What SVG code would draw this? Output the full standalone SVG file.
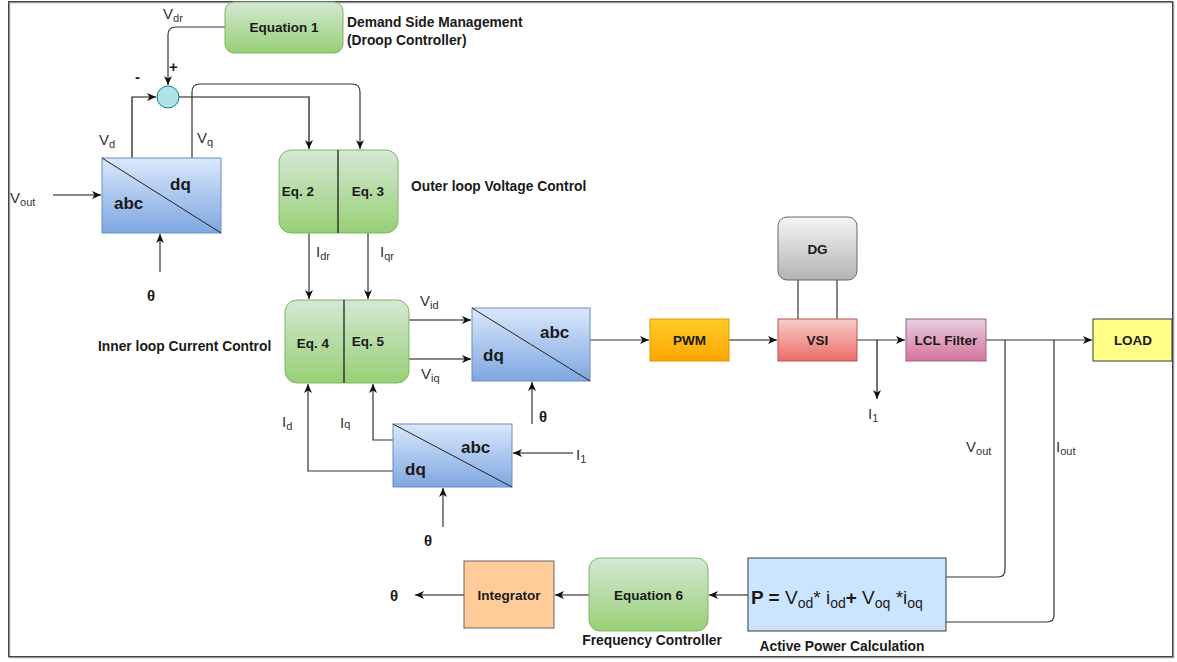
<svg xmlns="http://www.w3.org/2000/svg" width="1177" height="662" viewBox="0 0 1177 662">
<style>
text{font-family:"Liberation Sans",Arial,sans-serif;fill:#1a1a1a}
.b{font-weight:bold;font-size:13.5px;text-anchor:middle}
.lbl{font-weight:bold;font-size:13.8px}
.sym{font-size:15px;fill:#333}
.sub{font-size:11px}
.xf{font-weight:bold;font-size:17px}
.th{font-weight:bold;font-size:15px}
.c{fill:none;stroke:#333;stroke-width:1.2}
.k{fill:none;stroke:#111;stroke-width:1.2}
</style>
<defs>
<linearGradient id="gG" x1="0" y1="0" x2="0" y2="1"><stop offset="0" stop-color="#d5e8d4"/><stop offset="1" stop-color="#97d077"/></linearGradient>
<linearGradient id="gB" x1="0" y1="0" x2="0" y2="1"><stop offset="0" stop-color="#dae8fc"/><stop offset="1" stop-color="#7ea6e0"/></linearGradient>
<linearGradient id="gO" x1="0" y1="0" x2="0" y2="1"><stop offset="0" stop-color="#ffcd28"/><stop offset="1" stop-color="#ffa500"/></linearGradient>
<linearGradient id="gR" x1="0" y1="0" x2="0" y2="1"><stop offset="0" stop-color="#f8cecc"/><stop offset="1" stop-color="#ea6b66"/></linearGradient>
<linearGradient id="gP" x1="0" y1="0" x2="0" y2="1"><stop offset="0" stop-color="#e6d0de"/><stop offset="1" stop-color="#d5739d"/></linearGradient>
<linearGradient id="gS" x1="0" y1="0" x2="0" y2="1"><stop offset="0" stop-color="#f5f5f5"/><stop offset="1" stop-color="#b3b3b3"/></linearGradient>
<marker id="ar" viewBox="0 0 9 8" refX="9" refY="4" markerWidth="9" markerHeight="8" markerUnits="userSpaceOnUse" orient="auto">
<path d="M0,0 L9,4 L0,8 L2.5,4 z" fill="#111"/>
</marker>
</defs>
<rect x="0" y="0" width="1177" height="662" fill="#fff"/>
<rect x="9.5" y="2.5" width="1164" height="655" fill="none" stroke="#999" stroke-width="1.5"/>
<rect x="8.5" y="1.5" width="1164" height="655" fill="none" stroke="#444" stroke-width="1"/>

<g id="connectors">
<path class="c" d="M225,27 H176 Q168,27 168,35 V85" marker-end="url(#ar)"/>
<path class="k" d="M132,158 V97 H156" marker-end="url(#ar)"/>
<path class="k" d="M179,97 H309 V149" marker-end="url(#ar)"/>
<path class="c" d="M192,158 V92 Q192,84 200,84 H352 Q360,84 360,92 V149" marker-end="url(#ar)"/>
<path class="k" d="M53,195 H101" marker-end="url(#ar)"/>
<path class="c" d="M160,272 V234" marker-end="url(#ar)"/>
<path class="c" d="M309,233 V299" marker-end="url(#ar)"/>
<path class="c" d="M368,233 V299" marker-end="url(#ar)"/>
<path class="k" d="M409,320 H471" marker-end="url(#ar)"/>
<path class="k" d="M409,359 H471" marker-end="url(#ar)"/>
<path class="c" d="M532,424 V382" marker-end="url(#ar)"/>
<path class="c" d="M590,340 H649" marker-end="url(#ar)"/>
<path class="k" d="M729,340 H777" marker-end="url(#ar)"/>
<path class="c" d="M857,340 H905" marker-end="url(#ar)"/>
<path class="k" d="M877,340 V399" marker-end="url(#ar)"/>
<path class="c" d="M986,340 H1092" marker-end="url(#ar)"/>
<path class="c" d="M798,280 V319"/>
<path class="c" d="M837,280 V319"/>
<path class="c" d="M1005,340 V570 Q1005,577 998,577 H946"/>
<path class="c" d="M1054,340 V615 Q1054,622 1047,622 H946"/>
<path class="k" d="M748,595 H709" marker-end="url(#ar)"/>
<path class="k" d="M589,595 H555" marker-end="url(#ar)"/>
<path class="k" d="M464,595 H415" marker-end="url(#ar)"/>
<path class="k" d="M573,453 H513" marker-end="url(#ar)"/>
<path class="c" d="M393,440 H373 V384" marker-end="url(#ar)"/>
<path class="c" d="M393,471 H308 V384" marker-end="url(#ar)"/>
<path class="c" d="M443,527 V488" marker-end="url(#ar)"/>
</g>

<g id="eq1">
<rect x="225" y="2" width="118" height="51" rx="9" fill="url(#gG)" stroke="#82b366"/>
<text class="b" x="284" y="32">Equation 1</text>
</g>
<g id="dsm-label">
<text class="lbl" x="347" y="27">Demand Side Management</text>
<text class="lbl" x="347" y="45">(Droop Controller)</text>
</g>
<g id="sum">
<circle cx="168" cy="97" r="11" fill="#b0e3e6" stroke="#0e8088"/>
<text x="169" y="72" style="font-weight:bold;font-size:15px">+</text>
<text x="135" y="82" style="font-weight:bold;font-size:15px">-</text>
</g>
<g id="abcdq1">
<rect x="102" y="158" width="119" height="75" fill="url(#gB)" stroke="#6c8ebf"/>
<line x1="102" y1="158" x2="221" y2="233" stroke="#222"/>
<text class="xf" x="170" y="190">dq</text>
<text class="xf" x="114" y="209">abc</text>
</g>
<g id="eq23">
<rect x="279" y="150" width="119" height="83" rx="12" fill="url(#gG)" stroke="#82b366"/>
<line x1="338" y1="150" x2="338" y2="233" stroke="#111" stroke-width="1.2"/>
<text class="b" x="298" y="196">Eq. 2</text>
<text class="b" x="368" y="196">Eq. 3</text>
</g>
<text class="lbl" x="411" y="191">Outer loop Voltage Control</text>
<g id="eq45">
<rect x="285" y="300" width="124" height="83" rx="12" fill="url(#gG)" stroke="#82b366"/>
<line x1="344" y1="300" x2="344" y2="383" stroke="#111" stroke-width="1.2"/>
<text class="b" x="313" y="348">Eq. 4</text>
<text class="b" x="368" y="346">Eq. 5</text>
</g>
<text class="lbl" x="98" y="351">Inner loop Current Control</text>
<g id="abcdq2">
<rect x="472" y="308" width="118" height="73" fill="url(#gB)" stroke="#6c8ebf"/>
<line x1="472" y1="308" x2="590" y2="381" stroke="#222"/>
<text class="xf" x="540" y="338">abc</text>
<text class="xf" x="483" y="361">dq</text>
</g>
<g id="abcdq3">
<rect x="393" y="424" width="119" height="63" fill="url(#gB)" stroke="#6c8ebf"/>
<line x1="393" y1="424" x2="512" y2="487" stroke="#222"/>
<text class="xf" x="461" y="453">abc</text>
<text class="xf" x="405" y="475">dq</text>
</g>
<g id="pwm">
<rect x="650" y="319" width="79" height="42" fill="url(#gO)" stroke="#d79b00"/>
<text class="b" x="689.5" y="345">PWM</text>
</g>
<g id="dg">
<rect x="778" y="217" width="79" height="63" rx="9" fill="url(#gS)" stroke="#666"/>
<text class="b" x="817.5" y="254">DG</text>
</g>
<g id="vsi">
<rect x="778" y="319" width="79" height="42" fill="url(#gR)" stroke="#b85450"/>
<text class="b" x="817.5" y="345">VSI</text>
</g>
<g id="lcl">
<rect x="906" y="319" width="80" height="42" fill="url(#gP)" stroke="#996185"/>
<text class="b" x="946" y="345">LCL Filter</text>
</g>
<g id="load">
<rect x="1093" y="319" width="79" height="42" fill="#ffff88" stroke="#36393d"/>
<text class="b" x="1133" y="345">LOAD</text>
</g>
<g id="power">
<rect x="748" y="558" width="198" height="73" fill="#cce5ff" stroke="#36393d"/>
<text x="751" y="604" style="font-size:19px"><tspan font-weight="bold">P = </tspan>V<tspan style="font-size:14px" dy="4">od</tspan><tspan dy="-4">* i</tspan><tspan style="font-size:14px" dy="4">od</tspan><tspan dy="-4" font-weight="bold">+</tspan> V<tspan style="font-size:14px" dy="4">oq</tspan><tspan dy="-4"> *i</tspan><tspan style="font-size:14px" dy="4">oq</tspan></text>
</g>
<text class="lbl" x="842" y="651" text-anchor="middle">Active Power Calculation</text>
<g id="eq6">
<rect x="589" y="558" width="119" height="73" rx="11" fill="url(#gG)" stroke="#82b366"/>
<text class="b" x="648.5" y="600">Equation 6</text>
</g>
<text class="lbl" x="652" y="645" text-anchor="middle">Frequency Controller</text>
<g id="integrator">
<rect x="464" y="561" width="90" height="67" fill="#ffcc99" stroke="#666"/>
<text class="b" x="509" y="600">Integrator</text>
</g>

<g id="labels">
<text class="sym" x="163" y="19">V<tspan class="sub" dy="3">dr</tspan></text>
<text class="sym" x="99" y="145">V<tspan class="sub" dy="3">d</tspan></text>
<text class="sym" x="197" y="143">V<tspan class="sub" dy="3">q</tspan></text>
<text class="sym" x="10" y="203">V<tspan class="sub" dy="3">out</tspan></text>
<text class="th" x="147" y="301">θ</text>
<text class="sym" x="316" y="257">I<tspan class="sub" dy="3">dr</tspan></text>
<text class="sym" x="380" y="257">I<tspan class="sub" dy="3">qr</tspan></text>
<text class="sym" x="420" y="306">V<tspan class="sub" dy="3">id</tspan></text>
<text class="sym" x="421" y="379">V<tspan class="sub" dy="3">iq</tspan></text>
<text class="th" x="539" y="422">θ</text>
<text class="sym" x="282" y="427">I<tspan class="sub" dy="3">d</tspan></text>
<text class="sym" x="340" y="428">I<tspan class="sub">q</tspan></text>
<text class="sym" x="576" y="460">I<tspan class="sub" dy="3">1</tspan></text>
<text class="th" x="424" y="546">θ</text>
<text class="sym" x="868" y="419">I<tspan class="sub" dy="3">1</tspan></text>
<text class="sym" x="966" y="452">V<tspan class="sub" dy="3">out</tspan></text>
<text class="sym" x="1056" y="452">I<tspan class="sub" dy="3">out</tspan></text>
<text class="th" x="390" y="601">θ</text>
</g>
</svg>
